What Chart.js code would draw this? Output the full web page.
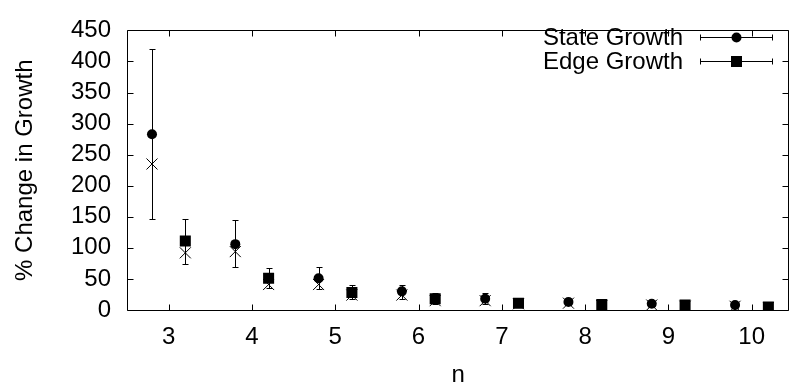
<!DOCTYPE html>
<html>
<head>
<meta charset="utf-8">
<title>% Change in Growth</title>
<script src="https://cdn.jsdelivr.net/npm/chart.js"></script>
<style>
    html, body { margin: 0; padding: 0; background: #fff; }
    #grafico-crescita { display: block; }
</style>
</head>
<body>
<canvas id="grafico-crescita" width="798" height="387"></canvas>
<script>
// valori letti per ogni n (State a sinistra, Edge a destra del tick)
var nState = [2.8, 3.8, 4.8, 5.8, 6.8, 7.8, 8.8, 9.8];
var stateGrowth = [283, 106, 51, 30, 18, 13, 10, 8];
var stateLow = [147, 69, 34, 18, 9, 8, 6, 4];
var stateHigh = [420, 145, 69, 41, 28, 19, 14, 11];
var stateCross = [235, 94, 41, 24, 15, 11, 8, 6];

var nEdge = [3.2, 4.2, 5.2, 6.2, 7.2, 8.2, 9.2, 10.2];
var edgeGrowth = [111, 51, 28, 18, 11, 9, 8, 5];
var edgeLow = [74, 35, 18, 9, 6, 4, 3, 2];
var edgeHigh = [147, 68, 40, 27, 16, 12, 10, 7];
var edgeCross = [92, 41, 24, 15, 10, 7, 6, 4];

var xTicks = [3, 4, 5, 6, 7, 8, 9, 10];
var yTicks = [0, 50, 100, 150, 200, 250, 300, 350, 400, 450];

var fontFamily = '"Liberation Sans", Arial, Helvetica, sans-serif';

function punti(xs, ys) {
    var out = [];
    for (var i = 0; i < xs.length; i++) {
        out.push({ x: xs[i], y: ys[i] });
    }
    return out;
}

function px(v) {
    return Math.round(v) + 0.5;
}

// barre d'errore sotto i marker
var barreErrore = {
    id: 'barreErrore',
    beforeDatasetsDraw: function (chart) {
        var ctx = chart.ctx;
        var sx = chart.scales.x;
        var sy = chart.scales.y;
        var serie = [
            { xs: nState, lo: stateLow, hi: stateHigh },
            { xs: nEdge, lo: edgeLow, hi: edgeHigh }
        ];
        ctx.save();
        ctx.strokeStyle = '#000';
        ctx.lineWidth = 1;
        serie.forEach(function (s) {
            for (var i = 0; i < s.xs.length; i++) {
                var x = px(sx.getPixelForValue(s.xs[i]));
                var y1 = px(sy.getPixelForValue(s.lo[i]));
                var y2 = px(sy.getPixelForValue(s.hi[i]));
                ctx.beginPath();
                ctx.moveTo(x, y1);
                ctx.lineTo(x, y2);
                ctx.moveTo(x - 3, y1);
                ctx.lineTo(x + 3, y1);
                ctx.moveTo(x - 3, y2);
                ctx.lineTo(x + 3, y2);
                ctx.stroke();
            }
        });
        ctx.restore();
    }
};

// cornice e tacche interne su tutti e quattro i lati
var cornice = {
    id: 'cornice',
    afterDatasetsDraw: function (chart) {
        var ctx = chart.ctx;
        var a = chart.chartArea;
        var sx = chart.scales.x;
        var sy = chart.scales.y;
        var l = px(a.left), r = px(a.right - 1), t = px(a.top), b = px(a.bottom);
        ctx.save();
        ctx.strokeStyle = '#000';
        ctx.lineWidth = 1;
        ctx.beginPath();
        ctx.rect(l, t, r - l, b - t);
        xTicks.forEach(function (v) {
            var x = px(sx.getPixelForValue(v));
            ctx.moveTo(x, b);
            ctx.lineTo(x, b - 6);
            ctx.moveTo(x, t);
            ctx.lineTo(x, t + 6);
        });
        yTicks.forEach(function (v) {
            var y = px(sy.getPixelForValue(v));
            ctx.moveTo(l, y);
            ctx.lineTo(l + 6, y);
            ctx.moveTo(r, y);
            ctx.lineTo(r - 6, y);
        });
        ctx.stroke();
        ctx.restore();
    }
};

// legenda in stile gnuplot: testo a destra allineato, poi campione con barra
var legenda = {
    id: 'legenda',
    afterDraw: function (chart) {
        var ctx = chart.ctx;
        var voci = [
            { testo: 'State Growth', y: 37, forma: 'circle' },
            { testo: 'Edge Growth', y: 61, forma: 'rect' }
        ];
        ctx.save();
        ctx.font = '24px ' + fontFamily;
        ctx.fillStyle = '#000';
        ctx.strokeStyle = '#000';
        ctx.lineWidth = 1;
        ctx.textAlign = 'right';
        ctx.textBaseline = 'alphabetic';
        voci.forEach(function (v) {
            ctx.fillText(v.testo, 683, v.y + 8);
            var y = px(v.y);
            ctx.beginPath();
            ctx.moveTo(700.5, y);
            ctx.lineTo(772.5, y);
            ctx.moveTo(700.5, y - 3);
            ctx.lineTo(700.5, y + 3);
            ctx.moveTo(772.5, y - 3);
            ctx.lineTo(772.5, y + 3);
            ctx.stroke();
            if (v.forma === 'circle') {
                ctx.beginPath();
                ctx.arc(736.5, y, 5, 0, Math.PI * 2);
                ctx.fill();
            } else {
                ctx.fillRect(731, y - 5.5, 11, 11);
            }
        });
        ctx.restore();
    }
};

function creaGrafico() {
    var ctx = document.getElementById('grafico-crescita');
    var grafico = new Chart(ctx, {
        type: 'scatter',
        data: {
            datasets: [{
                label: 'State Growth',
                data: punti(nState, stateGrowth),
                pointStyle: 'circle',
                pointRadius: 5,
                backgroundColor: '#000',
                borderColor: '#000',
                borderWidth: 0
            }, {
                label: 'Edge Growth',
                data: punti(nEdge, edgeGrowth),
                pointStyle: 'rect',
                pointRadius: 7.8,
                backgroundColor: '#000',
                borderColor: '#000',
                borderWidth: 0
            }, {
                label: 'State',
                data: punti(nState, stateCross),
                pointStyle: 'crossRot',
                pointRadius: 7.8,
                borderColor: '#000',
                borderWidth: 1
            }, {
                label: 'Edge',
                data: punti(nEdge, edgeCross),
                pointStyle: 'crossRot',
                pointRadius: 7.8,
                borderColor: '#000',
                borderWidth: 1
            }]
        },
        options: {
            responsive: false,
            animation: false,
            devicePixelRatio: 1,
            layout: { padding: { top: 20, right: 1, bottom: 0, left: 0 } },
            plugins: {
                legend: { display: false },
                tooltip: { enabled: false }
            },
            scales: {
                x: {
                    type: 'linear',
                    min: 2.5,
                    max: 10.45,
                    afterBuildTicks: function (scale) {
                        scale.ticks = xTicks.map(function (v) { return { value: v }; });
                    },
                    afterFit: function (scale) { scale.height = 77; },
                    grid: { display: false, drawTicks: false },
                    border: { display: false },
                    ticks: {
                        color: '#000',
                        font: { family: fontFamily, size: 24 },
                        padding: 13,
                        maxRotation: 0,
                        autoSkip: false
                    },
                    title: {
                        display: true,
                        text: 'n',
                        color: '#000',
                        font: { family: fontFamily, size: 24, lineHeight: 1 },
                        padding: { top: 0, bottom: 0 }
                    }
                },
                y: {
                    type: 'linear',
                    min: 0,
                    max: 450,
                    afterBuildTicks: function (scale) {
                        scale.ticks = yTicks.map(function (v) { return { value: v }; });
                    },
                    afterFit: function (scale) { scale.width = 127; },
                    grid: { display: false, drawTicks: false },
                    border: { display: false },
                    ticks: {
                        color: '#000',
                        font: { family: fontFamily, size: 24 },
                        padding: 16,
                        autoSkip: false
                    },
                    title: {
                        display: true,
                        text: '% Change in Growth',
                        color: '#000',
                        font: { family: fontFamily, size: 24, lineHeight: 1 },
                        padding: { top: 13, bottom: 0 }
                    }
                }
            }
        },
        plugins: [barreErrore, cornice, legenda]
    });
    return grafico;
}

creaGrafico();
</script>
</body>
</html>
